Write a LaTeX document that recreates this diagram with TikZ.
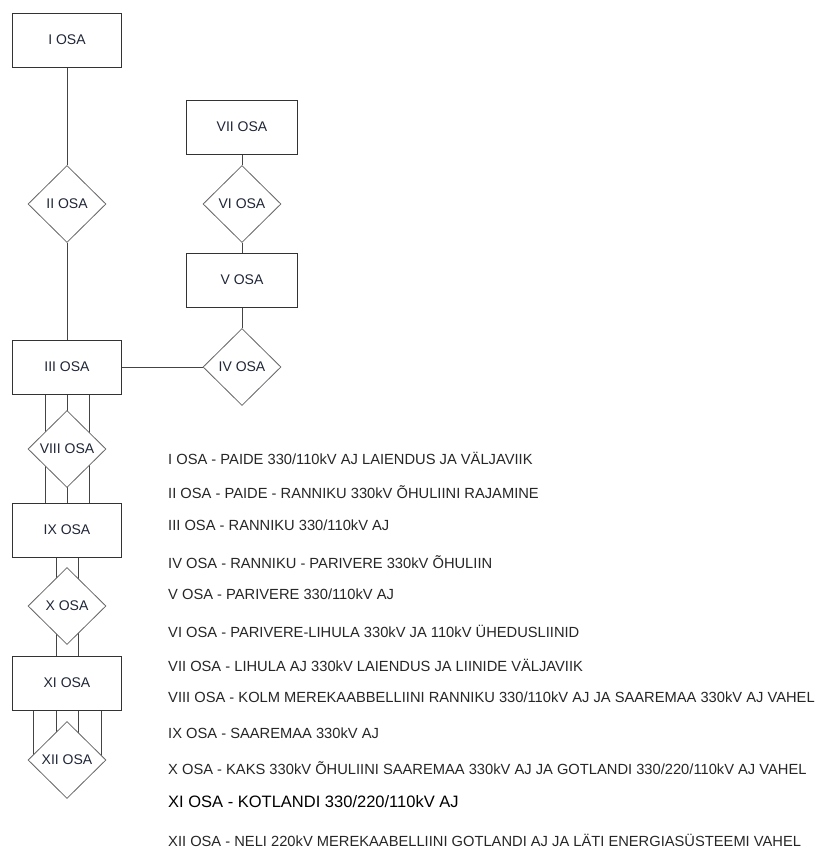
\documentclass[tikz,border=0pt]{standalone}
\usepackage{fontspec}
\setmainfont{Liberation Sans}
\usetikzlibrary{shapes.geometric,backgrounds}

\definecolor{osaline}{HTML}{444444}
\definecolor{osatext}{HTML}{1F2636}
\definecolor{legtext}{HTML}{262626}

\tikzset{
  osabox/.style={draw=black!80, fill=white, line width=0.8pt, minimum width=109pt, minimum height=54pt, inner sep=0pt, text=osatext, font=\fontsize{14}{16}\selectfont},
  osaromb/.style={diamond, aspect=1, draw=black!60, fill=white, line width=0.8pt, minimum width=78pt, minimum height=77pt, inner sep=0pt, text=osatext, font=\fontsize{14}{16}\selectfont},
  osalink/.style={draw=osaline, line width=0.8pt},
  legend/.style={anchor=west, inner sep=0pt, text=legtext, font=\fontsize{14.7}{17}\selectfont}
}

\begin{document}
\begin{tikzpicture}[x=1pt, y=-1pt]
\useasboundingbox (0,0) rectangle (816,849);

% Vasak haru
\node[osabox] (I) at (67,40) {I OSA};
\node[osaromb] (II) at (67,204) {II OSA};
\node[osabox] (III) at (67,367) {III OSA};
\node[osaromb] (VIII) at (67,449) {VIII OSA};
\node[osabox] (IX) at (67,530) {IX OSA};
\node[osaromb] (X) at (67,606) {X OSA};
\node[osabox] (XI) at (67,683) {XI OSA};
\node[osaromb] (XII) at (67,760) {XII OSA};

% Parem haru
\node[osabox, minimum width=111pt] (VII) at (242,127) {VII OSA};
\node[osaromb] (VI) at (242,204) {VI OSA};
\node[osabox, minimum width=111pt] (V) at (242,280) {V OSA};
\node[osaromb] (IV) at (242,367) {IV OSA};

% Ühendused
\begin{scope}[on background layer]
\draw[osalink] (I) -- (II);
\draw[osalink] (II) -- (III);
\draw[osalink] (III) -- (IV);
\draw[osalink] (IV) -- (V);
\draw[osalink] (VI) -- (VII);
\draw[osalink] (V) -- (VI);
\foreach \dx in {-22,0,22}
  \draw[osalink] ([xshift=\dx pt]III.south) -- ([xshift=\dx pt]IX.north);
\foreach \dx in {-11,11}
  \draw[osalink] ([xshift=\dx pt]IX.south) -- ([xshift=\dx pt]XI.north);
\foreach \dx in {-34,-11,11,34}
  \draw[osalink] ([xshift=\dx pt]XI.south) -- ([xshift=\dx pt]XII.center);
\end{scope}

% Legend
\node[legend] (l1) at (168,458) {I OSA - PAIDE 330/110kV AJ LAIENDUS JA VÄLJAVIIK};
\node[legend] (l2) at (168,492) {II OSA - PAIDE - RANNIKU 330kV ÕHULIINI RAJAMINE};
\node[legend] (l3) at (168,525) {III OSA - RANNIKU 330/110kV AJ};
\node[legend] (l4) at (168,562) {IV OSA - RANNIKU - PARIVERE 330kV ÕHULIIN};
\node[legend] (l5) at (168,594) {V OSA - PARIVERE 330/110kV AJ};
\node[legend] (l6) at (168,631) {VI OSA - PARIVERE-LIHULA 330kV JA 110kV ÜHEDUSLIINID};
\node[legend] (l7) at (168,665) {VII OSA - LIHULA AJ 330kV LAIENDUS JA LIINIDE VÄLJAVIIK};
\node[legend] (l8) at (168,697) {VIII OSA - KOLM MEREKAABBELLIINI RANNIKU 330/110kV AJ JA SAAREMAA 330kV AJ VAHEL};
\node[legend] (l9) at (168,733) {IX OSA - SAAREMAA 330kV AJ};
\node[legend] (l10) at (168,768) {X OSA - KAKS 330kV ÕHULIINI SAAREMAA 330kV AJ JA GOTLANDI 330/220/110kV AJ VAHEL};
\node[legend, text=black, font=\fontsize{16.5}{19}\selectfont] (l11) at (168,802) {XI OSA - KOTLANDI 330/220/110kV AJ};
\node[legend] (l12) at (168,840) {XII OSA - NELI 220kV MEREKAABELLIINI GOTLANDI AJ JA LÄTI ENERGIASÜSTEEMI VAHEL};

\end{tikzpicture}
\end{document}
